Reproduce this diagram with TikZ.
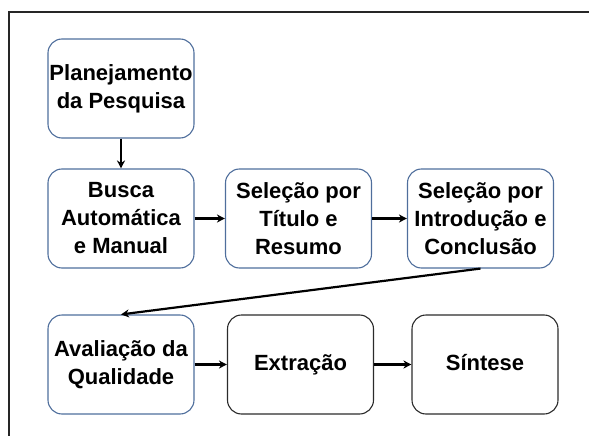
\documentclass[tikz,border=0pt]{standalone}
\usepackage{fontspec}
\setmainfont{Liberation Sans}
\usetikzlibrary{arrows.meta}
\definecolor{boxblue}{HTML}{4F6E9C}
\definecolor{boxdark}{HTML}{2B2B2B}
\tikzset{
  stepbox/.style={draw=boxblue, line width=1.1pt, rounded corners=14pt, align=center,
    minimum width=146pt, minimum height=99pt, inner sep=0pt,
    font=\bfseries\fontsize{22}{28}\selectfont},
  darkbox/.style={stepbox, draw=boxdark, text height=16pt, text depth=5pt},
  flow/.style={-{Stealth[length=8pt,width=8pt]}, line width=2.2pt, black}
}
\begin{document}
\begin{tikzpicture}[x=1pt,y=-1pt]
\useasboundingbox (0,0) rectangle (589,436);
\draw[line width=1.8pt, black!85] (9,436) -- (9,12) -- (589,12);
\node[stepbox] (plan) at (121,88.5) {Planejamento\\da Pesquisa};
\node[stepbox] (busca) at (121,218.5) {Busca\\Automática\\e Manual};
\node[stepbox] (tit) at (298.5,218.5) {Seleção por\\Título e\\Resumo};
\node[stepbox] (intro) at (480.5,218.5) {Seleção por\\Introdução e\\Conclusão};
\node[stepbox] (aval) at (121,364.5) {Avaliação da\\Qualidade};
\node[darkbox] (extr) at (300.5,364.5) {Extração};
\node[darkbox] (sint) at (485,364.5) {Síntese};
\draw[flow] (plan) -- (busca);
\draw[flow] (busca) -- (tit);
\draw[flow] (tit) -- (intro);
\draw[flow] (intro.south) -- (aval.north);
\draw[flow] (aval) -- (extr);
\draw[flow] (extr) -- (sint);
\end{tikzpicture}
\end{document}
